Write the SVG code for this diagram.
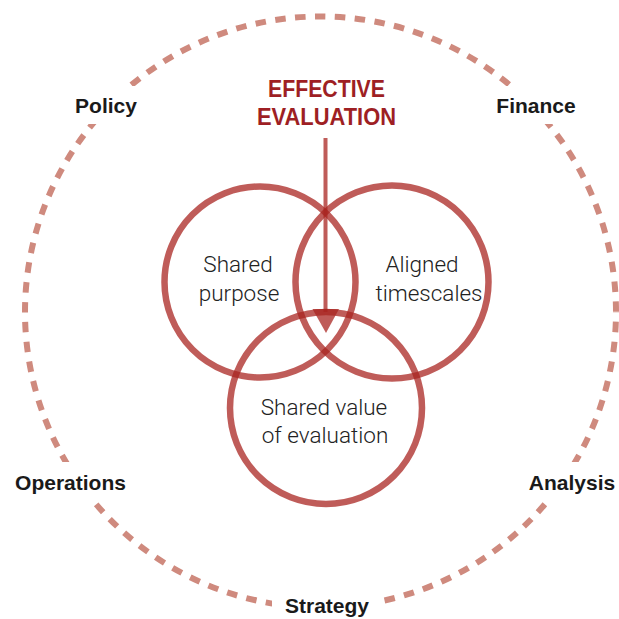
<svg xmlns="http://www.w3.org/2000/svg" width="619" height="619" viewBox="0 0 619 619">
<defs>
<style>
.ring{fill:none;stroke:#cf8a7e;stroke-width:6;stroke-dasharray:10.5 9.45;stroke-dashoffset:10.13}
.venn{fill:none;stroke:#a8231f;stroke-opacity:0.74;stroke-width:6.5}
.lbl{font-family:"Liberation Sans",Arial,sans-serif;font-weight:bold;font-size:21px;fill:#1a1a1a;text-anchor:middle}
.in{font-family:Roboto,"Liberation Sans",sans-serif;font-weight:300;font-size:22.5px;fill:#222;text-anchor:middle}
.title{font-family:"Liberation Sans",Arial,sans-serif;font-weight:bold;font-size:24px;fill:#9e1f24;text-anchor:middle}
.bg{fill:#ffffff}
</style>
</defs>
<rect width="619" height="619" fill="#ffffff"/>
<g id="ring"><circle class="ring" cx="320.5" cy="312" r="295.5"/></g>
<g id="label-policy"><rect class="bg" x="68" y="86" width="76" height="38"/><text class="lbl" x="106" y="113">Policy</text></g>
<g id="label-finance"><rect class="bg" x="488" y="86" width="96" height="38"/><text class="lbl" x="536" y="113">Finance</text></g>
<g id="label-operations"><rect class="bg" x="8" y="462" width="126" height="40"/><text class="lbl" x="70.5" y="490">Operations</text></g>
<g id="label-analysis"><rect class="bg" x="522" y="462" width="97" height="40"/><text class="lbl" x="572" y="490">Analysis</text></g>
<g id="label-strategy"><rect class="bg" x="272" y="588" width="110" height="31"/><text class="lbl" x="327" y="613">Strategy</text></g>
<g id="title"><text class="title" x="326.5" y="97" textLength="117" lengthAdjust="spacingAndGlyphs">EFFECTIVE</text><text class="title" x="326.5" y="125" textLength="139" lengthAdjust="spacingAndGlyphs">EVALUATION</text></g>
<g id="circle-purpose"><circle class="venn" cx="260" cy="282" r="95.5"/><text class="in" x="238" y="272">Shared</text><text class="in" x="239" y="301">purpose</text></g>
<g id="circle-timescales"><circle class="venn" cx="392" cy="282" r="96.5"/><text class="in" x="422" y="272">Aligned</text><text class="in" x="429" y="301">timescales</text></g>
<g id="circle-value"><circle class="venn" cx="326" cy="408" r="96"/><text class="in" x="324" y="415">Shared value</text><text class="in" x="325" y="443">of evaluation</text></g>
<g id="connectors">
<line x1="325.5" y1="138" x2="325.5" y2="312" stroke="#a8231f" stroke-opacity="0.74" stroke-width="4"/>
<polygon points="312.5,309 339,309 326,333" fill="#a8231f" fill-opacity="0.74"/>
</g>
</svg>
